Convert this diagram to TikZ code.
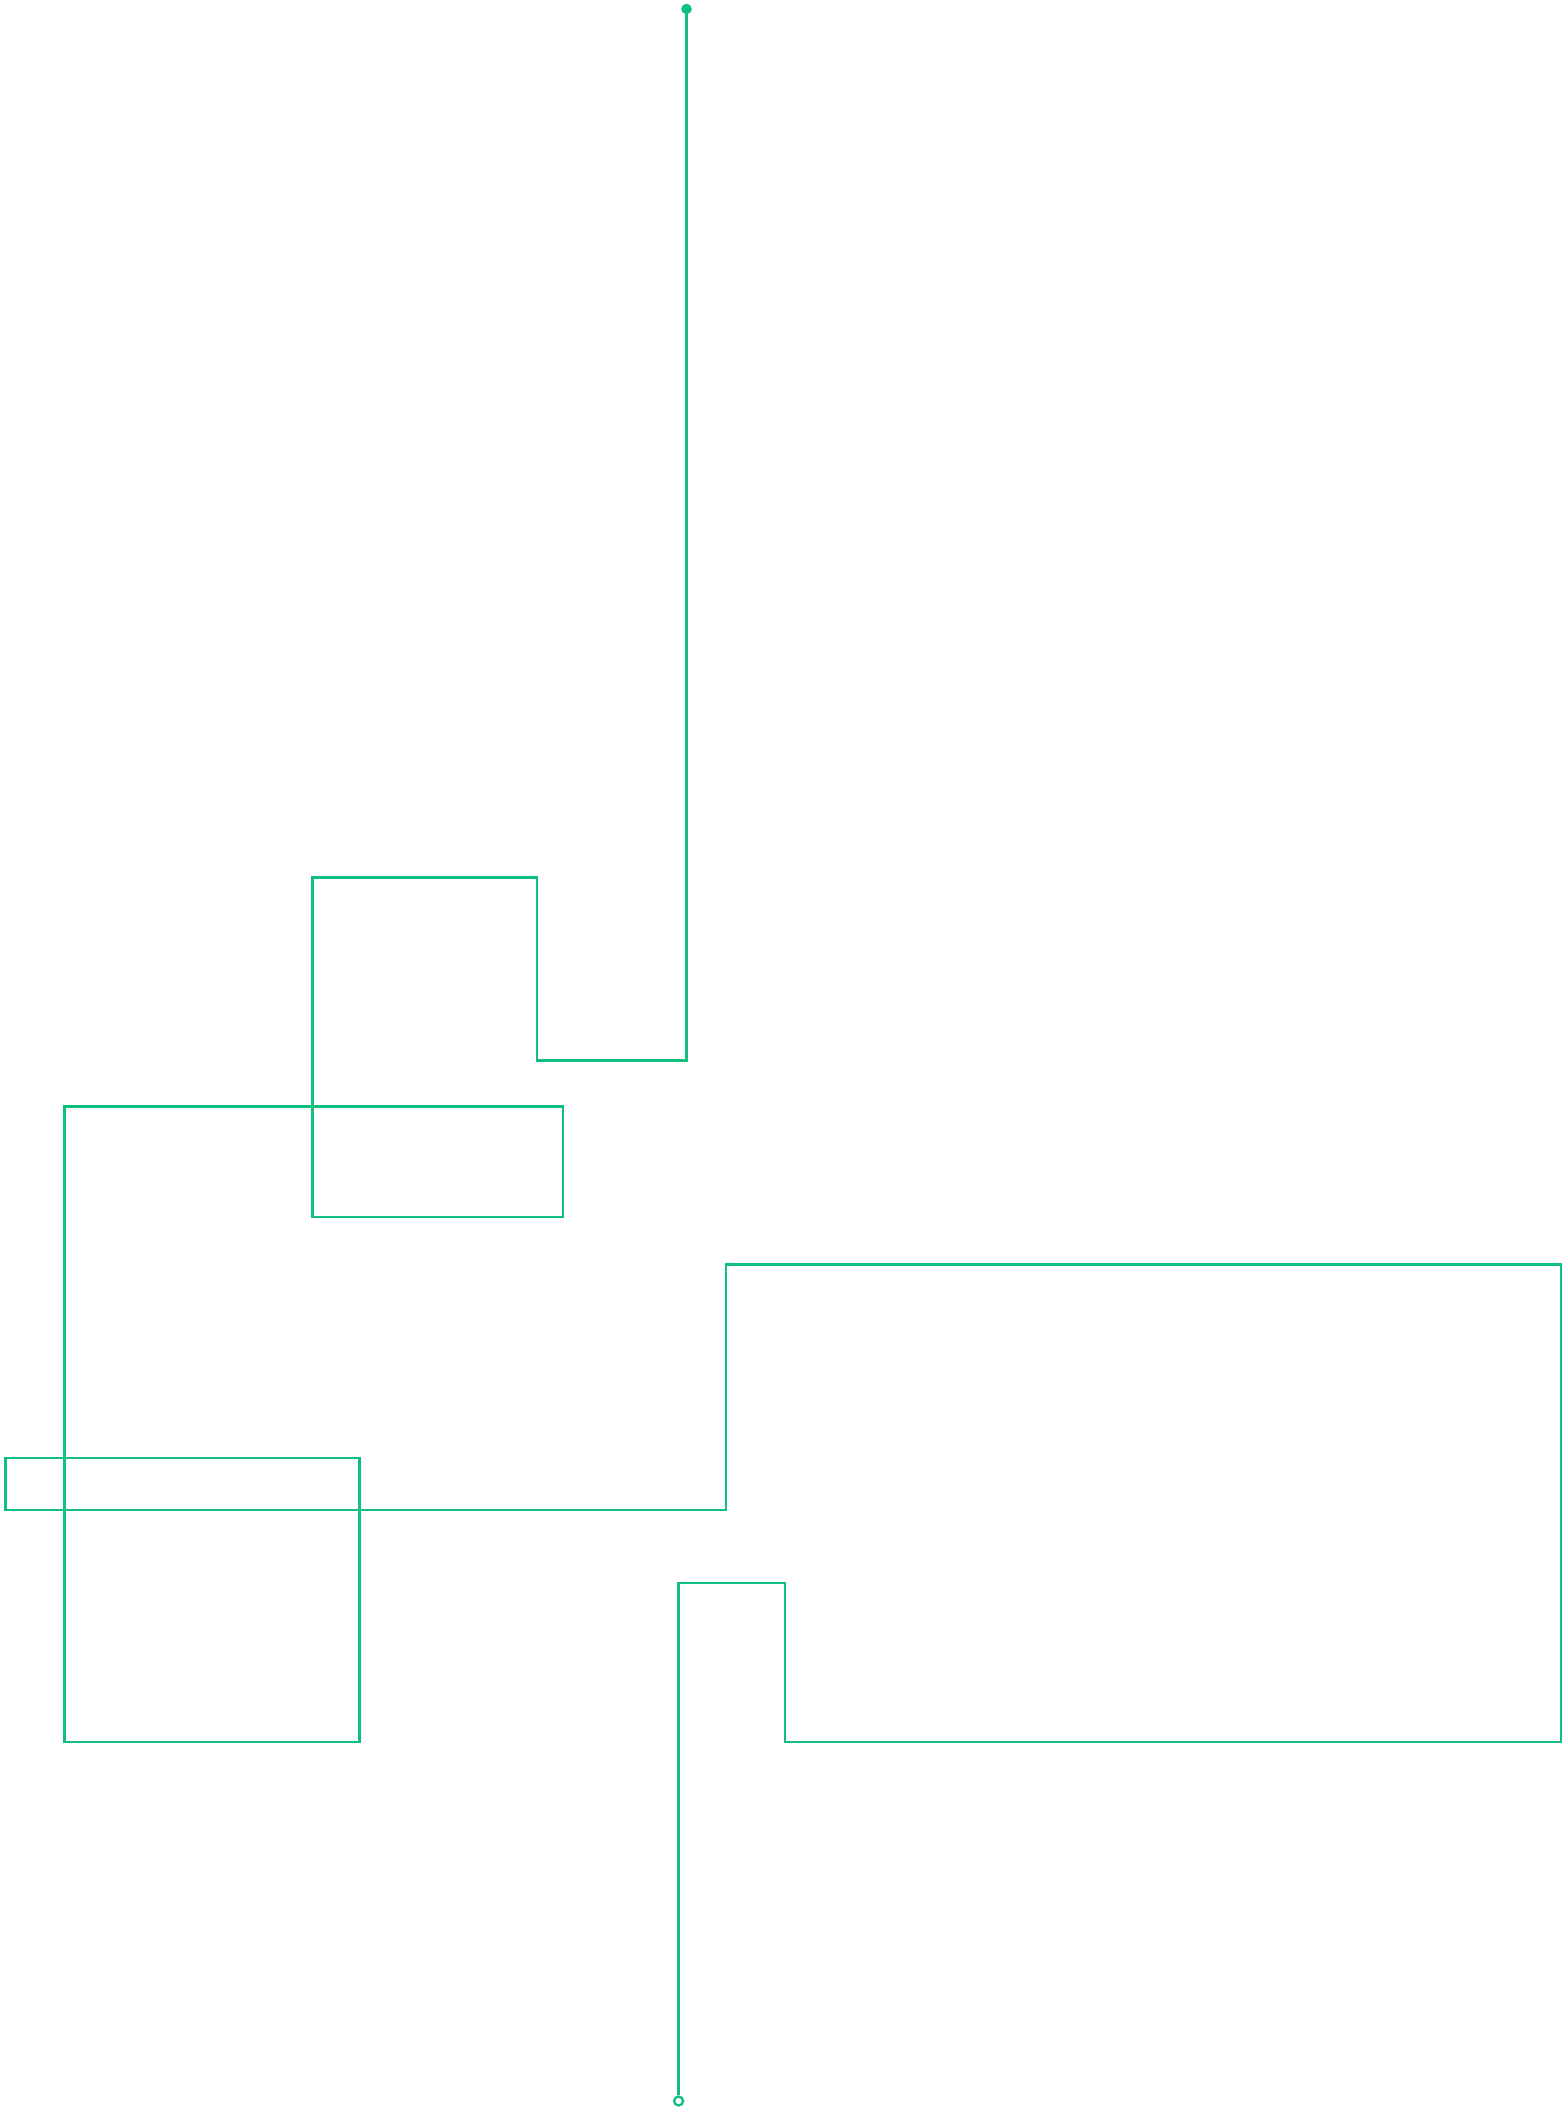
\documentclass[tikz,border=0pt]{standalone}
\definecolor{wiregreen}{RGB}{16,190,126}
\begin{document}
\begin{tikzpicture}[x=1pt,y=-1pt,
	wire/.style={ wiregreen, line width=2.3pt },
	vstart/.style={ circle, draw=wiregreen, fill=wiregreen, inner sep=0pt, minimum size=10pt },
	vend/.style={ circle, draw=wiregreen, line width=2.3pt, fill=white, inner sep=0pt, minimum size=9pt }
]
\useasboundingbox (0,0) rectangle (1566,2111);

\node at (686.5,9) (S) [vstart] {};
\node at (678.6,2101) (E) [vend] {};

\coordinate (A) at (686.5,1060.5);
\coordinate (B) at (537.3,1060.5);
\coordinate (C) at (537.3,877.5);
\coordinate (D) at (312.5,877.5);
\coordinate (F) at (312.5,1217);
\coordinate (G) at (563.3,1217);
\coordinate (H) at (563.3,1106.5);
\coordinate (I) at (64.5,1106.5);
\coordinate (J) at (64.5,1742.3);
\coordinate (K) at (359.5,1742.3);
\coordinate (L) at (359.5,1458.2);
\coordinate (M) at (5.4,1458.2);
\coordinate (N) at (5.4,1509.8);
\coordinate (O) at (725.7,1509.8);
\coordinate (P) at (725.7,1264.5);
\coordinate (Q) at (1560.8,1264.5);
\coordinate (R) at (1560.8,1742.3);
\coordinate (T) at (785,1742.3);
\coordinate (U) at (785,1583.3);
\coordinate (V) at (678.6,1583.3);

\draw[wire] (S.center) -- (A) -- (B) -- (C) -- (D) -- (F) -- (G) -- (H) -- (I) -- (J) -- (K) -- (L) -- (M) -- (N) -- (O) -- (P) -- (Q) -- (R) -- (T) -- (U) -- (V) -- (E.north);

\end{tikzpicture}
\end{document}
